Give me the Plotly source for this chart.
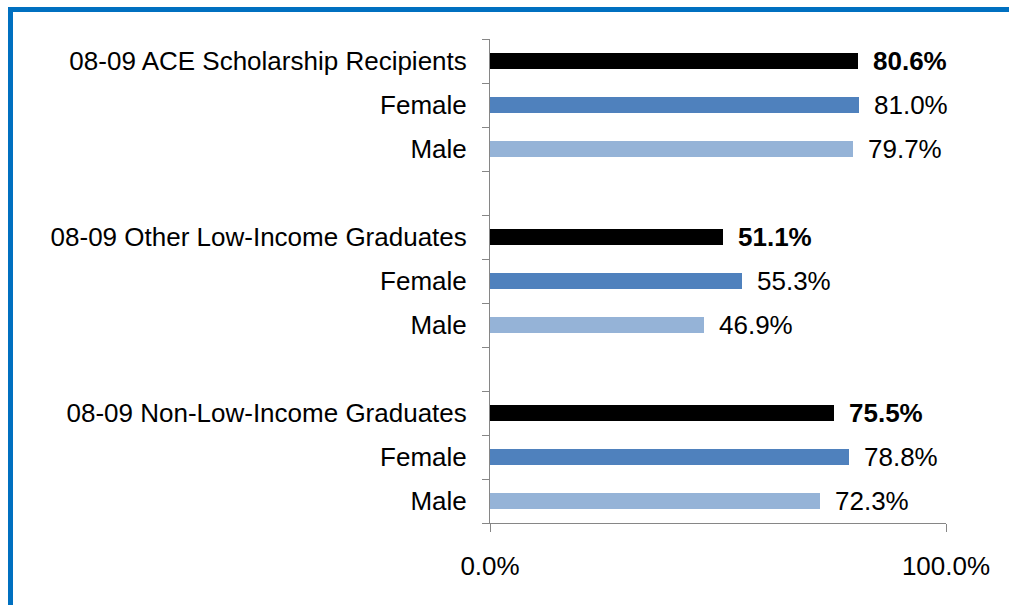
import plotly.graph_objects as go

# ---- data ----
categories = [
    "08-09 ACE Scholarship Recipients", "Female", "Male", "",
    "08-09 Other Low-Income Graduates", "Female", "Male", "",
    "08-09 Non-Low-Income Graduates", "Female", "Male",
]
total_values = [0.806, 0.511, 0.755]
female_values = [0.810, 0.553, 0.788]
male_values = [0.797, 0.469, 0.723]
x_tick_labels = ["0.0%", "100.0%"]

# slot positions
total_pos = [0, 4, 8]
female_pos = [1, 5, 9]
male_pos = [2, 6, 10]

W, H = 1009, 605
L, R, T, B = 490, 946, 39, 523
FONT = "Liberation Sans, Arial, sans-serif"
FS = 26

fig = go.Figure()
series = [
    (total_pos, total_values, "#000000", True),
    (female_pos, female_values, "#4F81BD", False),
    (male_pos, male_values, "#95B3D7", False),
]
for pos, vals, col, bold in series:
    fig.add_trace(go.Bar(
        y=pos, x=vals, orientation="h", width=0.385,
        marker=dict(color=col, line=dict(width=0)),
        showlegend=False, hoverinfo="skip",
    ))
    for p, v in zip(pos, vals):
        txt = f"{v*100:.1f}%"
        if bold:
            txt = f"<b>{txt}</b>"
        fig.add_annotation(
            x=v, y=p, xref="x", yref="y", text=txt, showarrow=False,
            xanchor="left", yanchor="middle", xshift=13,
            font=dict(family=FONT, size=FS, color="#000000"),
        )

def px2paper_x(px):
    return (px - L) / (R - L)

def px2paper_y(py):
    return (B - py) / (B - T)

blue = "#0070C0"
fig.add_shape(type="rect", xref="paper", yref="paper", layer="above",
              x0=px2paper_x(8), x1=px2paper_x(13), y0=px2paper_y(W), y1=px2paper_y(7),
              fillcolor=blue, line=dict(width=0))
fig.add_shape(type="rect", xref="paper", yref="paper", layer="above",
              x0=px2paper_x(8), x1=px2paper_x(W + 10), y0=px2paper_y(12), y1=px2paper_y(7),
              fillcolor=blue, line=dict(width=0))

grey = "#868686"
fig.update_layout(
    width=W, height=H,
    margin=dict(l=L, r=W - R, t=T, b=H - B, pad=0),
    paper_bgcolor="white", plot_bgcolor="white",
    bargap=0, barmode="overlay",
    font=dict(family=FONT, size=FS, color="#000000"),
    xaxis=dict(
        range=[0, 1], tickvals=[0, 1], ticktext=x_tick_labels,
        ticks="outside", ticklen=8, tickcolor=grey, tickwidth=1,
        showgrid=True, gridcolor=grey, gridwidth=1,
        showline=True, linecolor=grey, linewidth=1,
        zeroline=False, ticklabelstandoff=12,
        tickfont=dict(family=FONT, size=FS, color="#000000"),
        fixedrange=True,
    ),
    yaxis=dict(
        range=[10.5, -0.5], tickvals=list(range(len(categories))), ticktext=categories,
        ticks="", showgrid=False, zeroline=False,
        showline=True, linecolor=grey, linewidth=1,
        ticklabelstandoff=17,
        tickfont=dict(family=FONT, size=FS, color="#000000"),
        minor=dict(tickmode="linear", tick0=-0.5, dtick=1, ticks="outside",
                   ticklen=7, tickcolor=grey, tickwidth=1, showgrid=False),
        fixedrange=True,
    ),
)

fig.write_html("out.html", config={"displayModeBar": False},
               post_script="document.body.style.margin='0';")
